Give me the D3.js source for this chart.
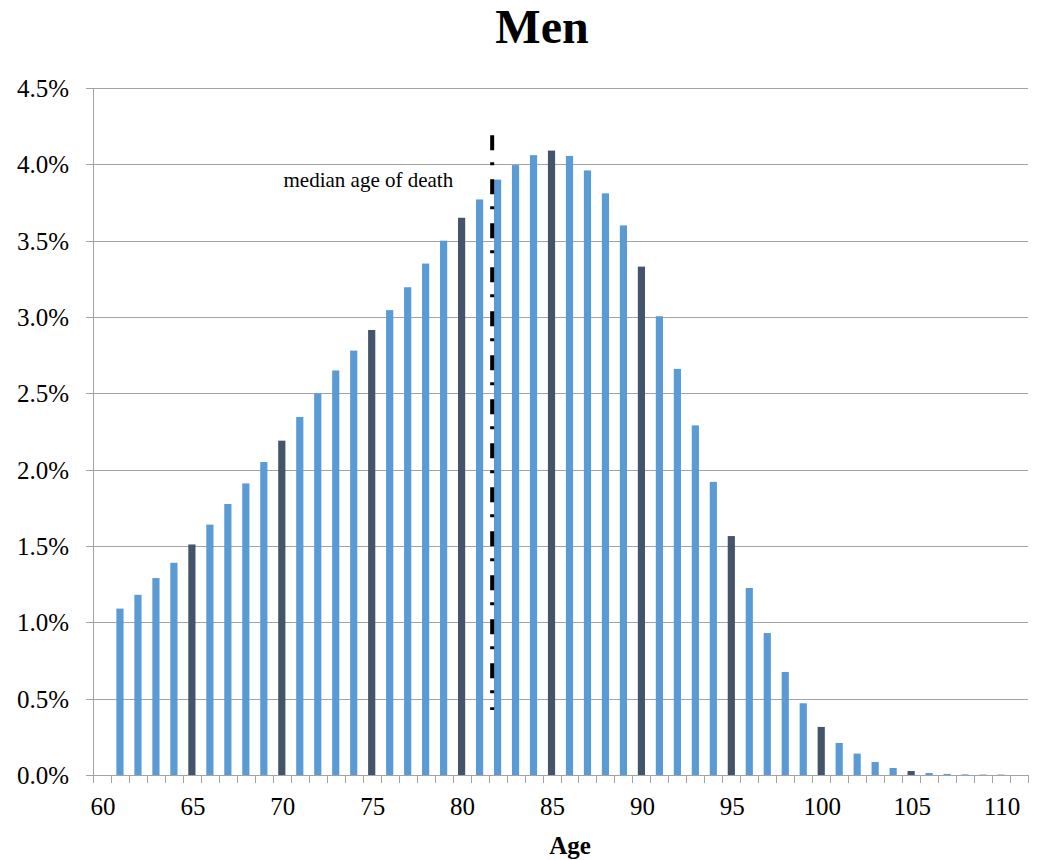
<!DOCTYPE html>
<html>
<head>
<meta charset="utf-8">
<script src="https://cdn.jsdelivr.net/npm/d3@7"></script>
<style>
  body { margin: 0; background: #fff; }
  svg { display: block; font-family: "Liberation Serif", "Times New Roman", serif; }
</style>
</head>
<body>
<div id="chart"></div>
<script>
// Age categories on the x axis (60 and 111 are empty slots)
const ages = [60, 61, 62, 63, 64, 65, 66, 67, 68, 69, 70, 71, 72, 73, 74, 75, 76, 77, 78, 79,
  80, 81, 82, 83, 84, 85, 86, 87, 88, 89, 90, 91, 92, 93, 94, 95, 96, 97, 98, 99,
  100, 101, 102, 103, 104, 105, 106, 107, 108, 109, 110, 111];

// Share of deaths at each age, in percent
const deathShare = [0, 1.09, 1.18, 1.29, 1.39, 1.51, 1.64, 1.775, 1.91, 2.05, 2.19, 2.345, 2.5, 2.65, 2.78, 2.915, 3.045, 3.195, 3.35, 3.5,
  3.65, 3.77, 3.9, 3.995, 4.06, 4.09, 4.055, 3.96, 3.81, 3.6, 3.33, 3.005, 2.66, 2.29, 1.92, 1.565, 1.225, 0.93, 0.675, 0.47,
  0.315, 0.21, 0.14, 0.085, 0.046, 0.026, 0.013, 0.007, 0.004, 0.003, 0.002, 0];

const xTickLabels = [60, 65, 70, 75, 80, 85, 90, 95, 100, 105, 110];
const yTicks = [0, 0.5, 1, 1.5, 2, 2.5, 3, 3.5, 4, 4.5];

// Median marker: age position and vertical extent (percent)
const medianAge = 81.7;
const medianSpan = [0.425, 4.19];

const width = 1044;
const height = 860;
const margin = { top: 88, right: 16, bottom: 85, left: 93 };
const innerW = width - margin.left - margin.right;
const innerH = height - margin.top - margin.bottom;

const lightBlue = '#5b9bd5';
const darkSlate = '#44546a';
const gridColor = '#a3a3a3';

const svg = d3.select('#chart')
  .append('svg')
  .attr('width', width)
  .attr('height', height);

const g = svg.append('g')
  .attr('transform', `translate(${margin.left},${margin.top})`);

const x = d3.scaleBand()
  .domain(ages)
  .range([0, innerW])
  .paddingInner(0.6)
  .paddingOuter(0.3);

const y = d3.scaleLinear()
  .domain([0, 4.5])
  .range([innerH, 0]);

const step = x.step();
const slotStart = d => x(d) - step * x.paddingInner() / 2;

// Horizontal gridlines + left tick stubs
g.append('g')
  .selectAll('line')
  .data(yTicks)
  .join('line')
  .attr('x1', -7)
  .attr('x2', innerW)
  .attr('y1', d => Math.round(y(d)) + 0.5)
  .attr('y2', d => Math.round(y(d)) + 0.5)
  .attr('stroke', gridColor)
  .attr('stroke-width', 1);

// Y axis line
g.append('line')
  .attr('x1', 0.5).attr('x2', 0.5)
  .attr('y1', 0).attr('y2', innerH)
  .attr('stroke', gridColor);

// Y tick labels
g.append('g')
  .selectAll('text')
  .data(yTicks)
  .join('text')
  .attr('x', -24)
  .attr('y', d => y(d))
  .attr('dy', '0.36em')
  .attr('text-anchor', 'end')
  .attr('font-size', 25)
  .attr('fill', '#000')
  .text(d => d3.format('.1f')(d) + '%');

// X tick marks at category boundaries
const boundaries = ages.map(slotStart).concat([innerW]);
g.append('g')
  .selectAll('line')
  .data(boundaries)
  .join('line')
  .attr('x1', d => Math.round(d) + 0.5)
  .attr('x2', d => Math.round(d) + 0.5)
  .attr('y1', innerH)
  .attr('y2', innerH + 8)
  .attr('stroke', gridColor);

// X tick labels
g.append('g')
  .selectAll('text')
  .data(xTickLabels)
  .join('text')
  .attr('x', d => x(d) + x.bandwidth() / 2 + 1)
  .attr('y', innerH + 40)
  .attr('text-anchor', 'middle')
  .attr('font-size', 25)
  .attr('fill', '#000')
  .text(d => d);

// Bars
g.append('g')
  .selectAll('rect')
  .data(ages.map((a, i) => ({ age: a, value: deathShare[i] })))
  .join('rect')
  .attr('x', d => x(d.age))
  .attr('width', x.bandwidth())
  .attr('y', d => y(d.value))
  .attr('height', d => innerH - y(d.value))
  .attr('fill', d => d.age % 5 === 0 ? darkSlate : lightBlue);

// Median line
const ageCenter = d3.scaleLinear()
  .domain([ages[0], ages[ages.length - 1]])
  .range([x(ages[0]) + x.bandwidth() / 2, x(ages[ages.length - 1]) + x.bandwidth() / 2]);

g.append('line')
  .attr('x1', ageCenter(medianAge))
  .attr('x2', ageCenter(medianAge))
  .attr('y1', y(medianSpan[1]))
  .attr('y2', y(medianSpan[0]))
  .attr('stroke', '#000')
  .attr('stroke-width', 4)
  .attr('stroke-dasharray', '15,12,3,14');

g.append('text')
  .attr('x', ageCenter(medianAge) - 39)
  .attr('y', y(3.85) )
  .attr('text-anchor', 'end')
  .attr('font-size', 21)
  .attr('fill', '#000')
  .text('median age of death');

// Title
svg.append('text')
  .attr('x', 542)
  .attr('y', 43)
  .attr('text-anchor', 'middle')
  .attr('font-size', 48)
  .attr('font-weight', 'bold')
  .text('Men');

// X axis title
svg.append('text')
  .attr('x', 570)
  .attr('y', 854)
  .attr('text-anchor', 'middle')
  .attr('font-size', 25)
  .attr('font-weight', 'bold')
  .text('Age');
</script>
</body>
</html>
